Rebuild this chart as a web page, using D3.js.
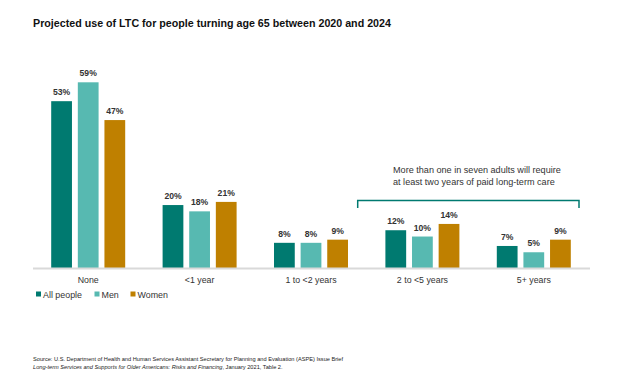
<!DOCTYPE html>
<html><head><meta charset="utf-8">
<script src="https://cdn.jsdelivr.net/npm/d3@7"></script>
<style>body{margin:0;background:#fff;}svg{display:block;font-family:"Liberation Sans",Arial,sans-serif;}</style>
</head><body><svg id="c" width="624" height="377"></svg>
<script>
const categories = ["None", "<1 year", "1 to <2 years", "2 to <5 years", "5+ years"];
const seriesNames = ["All people", "Men", "Women"];
const allPeople = [53, 20, 8, 12, 7];
const men = [59, 18, 8, 10, 5];
const women = [47, 21, 9, 14, 9];
const colors = ["#007A70", "#57B9B1", "#BF8000"];
const seriesValues = [allPeople, men, women];

const svg = d3.select("#c");
const x0 = d3.scaleBand().domain(categories).range([32.5, 589.5]);
const x1 = d3.scaleBand().domain(seriesNames).range([0, 74]).paddingInner(0.22);
const y = d3.scaleLinear().domain([0, 59]).range([268, 82.3]);

svg.append("text").attr("x", 33).attr("y", 27).attr("font-size", 10.7).attr("font-weight", "bold")
  .attr("fill", "#111").text("Projected use of LTC for people turning age 65 between 2020 and 2024");

const g = svg.append("g");
categories.forEach((cat, ci) => {
  const cx = x0(cat) + x0.bandwidth() / 2 - 37;
  seriesNames.forEach((s, si) => {
    const v = seriesValues[si][ci];
    g.append("rect").attr("x", cx + x1(s)).attr("y", y(v)).attr("width", x1.bandwidth())
      .attr("height", y(0) - y(v)).attr("fill", colors[si]);
    g.append("text").attr("x", cx + x1(s) + x1.bandwidth() / 2).attr("y", y(v) - 6)
      .attr("text-anchor", "middle").attr("font-size", 8.6).attr("font-weight", "bold")
      .attr("fill", "#333").text(v + "%");
  });
});

// axis
const axis = svg.append("g").attr("transform", "translate(0,268)")
  .call(d3.axisBottom(x0).tickSize(0).tickPadding(9));
axis.select(".domain").attr("stroke", "#d9d9d9").attr("stroke-width", 2);
axis.selectAll("text").attr("font-size", 8.8).attr("fill", "#333").attr("font-family", "Liberation Sans, Arial, sans-serif");

// legend
const legX = [36, 94.5, 130.5];
seriesNames.forEach((s, i) => {
  svg.append("rect").attr("x", legX[i]).attr("y", 291.5).attr("width", 5).attr("height", 5).attr("fill", colors[i]);
  svg.append("text").attr("x", legX[i] + 7).attr("y", 297.5).attr("font-size", 8.9).attr("fill", "#333").text(s);
});

// bracket annotation
const bx1 = x0("2 to <5 years") - 9, bx2 = x0("5+ years") + x0.bandwidth() - 10.5;
svg.append("path").attr("d", `M${bx1},208 V200.5 H${bx2} V208`).attr("fill", "none")
  .attr("stroke", "#007A70").attr("stroke-width", 1.5);
const annX = 393;
svg.append("text").attr("x", annX).attr("y", 173).attr("font-size", 9.1).attr("fill", "#333")
  .text("More than one in seven adults will require");
svg.append("text").attr("x", annX).attr("y", 185).attr("font-size", 9.1).attr("fill", "#333")
  .text("at least two years of paid long-term care");

// source
svg.append("text").attr("x", 33).attr("y", 360.5).attr("font-size", 5.65).attr("fill", "#222")
  .text("Source: U.S. Department of Health and Human Services Assistant Secretary for Planning and Evaluation (ASPE) Issue Brief");
const t2 = svg.append("text").attr("x", 33).attr("y", 369).attr("font-size", 5.65).attr("fill", "#222");
t2.append("tspan").attr("font-style", "italic").text("Long-term Services and Supports for Older Americans: Risks and Financing");
t2.append("tspan").text(", January 2021, Table 2.");
</script></body></html>
